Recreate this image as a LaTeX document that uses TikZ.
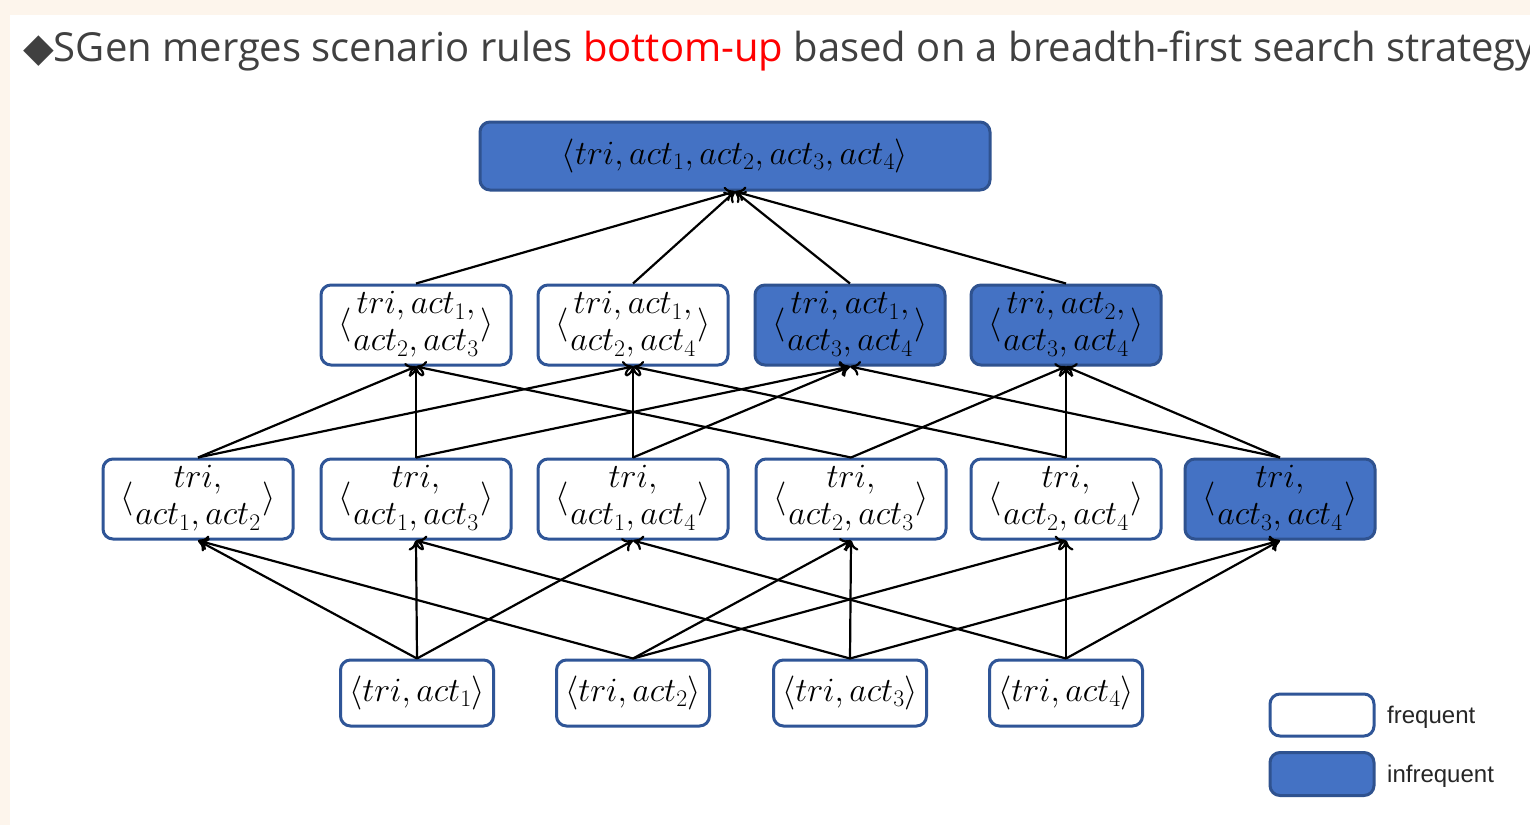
\RequirePackage{fix-cm}
\documentclass[tikz,border=0pt]{standalone}
\usepackage{fontspec}
\usetikzlibrary{arrows.meta}
\newfontfamily\titlefont{Open Sans}
\newfontfamily\symfont{DejaVu Sans}
\newfontfamily\legfont{Liberation Sans}
\definecolor{cream}{HTML}{FDF5EC}
\definecolor{boxblue}{HTML}{4472C4}
\definecolor{edgeblue}{HTML}{2F5597}
\definecolor{hotedge}{HTML}{2F528F}
\definecolor{titlegray}{HTML}{404040}
\tikzset{
  rulebox/.style={draw=edgeblue, line width=3pt, rounded corners=10pt, fill=white,
    inner sep=0pt, text=black, font=\fontsize{34}{37}\selectfont},
  hot/.style={fill=boxblue, draw=hotedge},
  pairbox/.style={rulebox, minimum width=190pt, minimum height=80pt},
  singlebox/.style={rulebox, minimum width=153pt, minimum height=66pt},
  arr/.style={line width=2.2pt, draw=black, -{To[length=10pt,width=15pt]}},
  legtext/.style={anchor=base west, inner sep=0pt, font=\legfont\fontsize{24}{28}\selectfont, text=black!85},
}
\newcommand{\twolines}[2]{$\langle\begin{array}{@{\hspace{2pt}}c@{\hspace{2pt}}}#1\\#2\end{array}\rangle$}
\begin{document}
\begin{tikzpicture}[x=1pt,y=-1pt]
\useasboundingbox (0,0) rectangle (1530,825);
\fill[cream] (0,0) rectangle (1530,825);
\fill[white] (10,15) rectangle (1530,825);
% title
\node[anchor=base west, inner sep=0pt, text=titlegray] (title) at (23,61)
  {{\symfont\fontsize{40}{44}\selectfont ◆}{\titlefont\fontsize{40}{46}\selectfont SGen merges scenario rules \textcolor{red}{bottom-up} based on a breadth-first search strategy}};
% top
\node[rulebox, hot, minimum width=510pt, minimum height=68pt] (top) at (735,156)
  {$\langle tri, act_1, act_2, act_3, act_4\rangle$};
% level 3
\node[pairbox] (t123) at (416,325) {\twolines{tri, act_1,}{act_2, act_3}};
\node[pairbox] (t124) at (633,325) {\twolines{tri, act_1,}{act_2, act_4}};
\node[pairbox, hot] (t134) at (850,325) {\twolines{tri, act_1,}{act_3, act_4}};
\node[pairbox, hot] (t234) at (1066,325) {\twolines{tri, act_2,}{act_3, act_4}};
% level 2
\node[pairbox] (p12) at (198,499) {\twolines{tri,}{act_1, act_2}};
\node[pairbox] (p13) at (416,499) {\twolines{tri,}{act_1, act_3}};
\node[pairbox] (p14) at (633,499) {\twolines{tri,}{act_1, act_4}};
\node[pairbox] (p23) at (851,499) {\twolines{tri,}{act_2, act_3}};
\node[pairbox] (p24) at (1066,499) {\twolines{tri,}{act_2, act_4}};
\node[pairbox, hot] (p34) at (1280,499) {\twolines{tri,}{act_3, act_4}};
% level 1
\node[singlebox] (a1) at (417,693) {$\langle tri, act_1\rangle$};
\node[singlebox] (a2) at (633,693) {$\langle tri, act_2\rangle$};
\node[singlebox] (a3) at (850,693) {$\langle tri, act_3\rangle$};
\node[singlebox] (a4) at (1066,693) {$\langle tri, act_4\rangle$};
% connectors
\foreach \s/\t in {a1/p12,a1/p13,a1/p14,a2/p12,a2/p23,a2/p24,a3/p13,a3/p23,a3/p34,a4/p14,a4/p24,a4/p34}
  \draw[arr] (\s.north) -- (\t.south);
\foreach \s/\t in {p12/t123,p12/t124,p13/t123,p13/t134,p14/t124,p14/t134,p23/t123,p23/t234,p24/t124,p24/t234,p34/t134,p34/t234}
  \draw[arr] (\s.north) -- (\t.south);
\foreach \s in {t123,t124,t134,t234}
  \draw[arr] (\s.north) -- (top.south);
% legend
\node[rulebox, minimum width=104pt, minimum height=42pt] (lf) at (1322,715) {};
\node[rulebox, hot, minimum width=104pt, minimum height=43pt] (li) at (1322,774) {};
\node[legtext] (lft) at (1387,723) {frequent};
\node[legtext] (lit) at (1387,782) {infrequent};
\end{tikzpicture}
\end{document}
